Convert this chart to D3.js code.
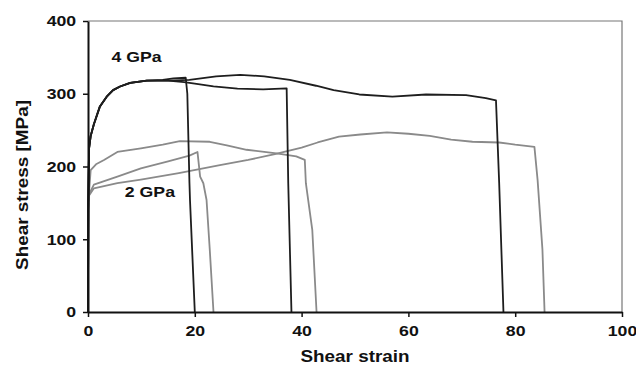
<!DOCTYPE html>
<html>
<head>
<meta charset="utf-8">
<script src="https://cdn.jsdelivr.net/npm/d3@7"></script>
<style>
  body { margin: 0; background: #fff; }
  text { font-family: "Liberation Sans", Arial, sans-serif; font-weight: bold; }
</style>
</head>
<body>
<div id="chart"></div>
<script>
// axis ticks
const xTicks = [0, 20, 40, 60, 80, 100];
const yTicks = [0, 100, 200, 300, 400];

// 4 GPa curves (black)
const strain4a = [0, 0.05, 0.2, 0.5, 1.1, 2.2, 3.5, 4.7, 6, 7.9, 11, 14, 16, 18.3, 18.6, 19.0, 19.1, 20];
const stress4a = [0, 150, 225, 242, 258, 282, 296, 305, 310, 315, 318, 319, 321, 322, 300, 177, 154, 0];
const strain4b = [0, 0.05, 0.2, 0.5, 1.1, 2.2, 3.5, 4.7, 6, 7.9, 11, 15, 18, 20, 23.5, 28, 32.8, 37.2, 37.5, 38.1];
const stress4b = [0, 150, 225, 242, 258, 282, 296, 305, 310, 315, 318, 318, 316, 314, 310, 307, 306, 307.5, 177, 0];
const strain4c = [0, 0.05, 0.2, 0.5, 1.1, 2.2, 3.5, 4.7, 6, 7.9, 11, 15, 19, 24, 28.5, 33, 37.8, 42.7, 46, 50.8, 57, 63.3, 70.8, 74.5, 76.4, 77, 77.8];
const stress4c = [0, 150, 225, 242, 258, 282, 296, 305, 310, 315, 318, 318, 319, 324, 326, 324, 319, 311, 305, 299, 296, 299, 298, 294, 291, 177, 0];

// 2 GPa curves (grey)
const strain2a = [0, 0.05, 0.2, 1.1, 5.5, 9.9, 15, 19, 20.5, 21, 21.6, 22.2, 22.8, 23.5];
const stress2a = [0, 140, 162, 175, 186, 197.5, 207, 215, 220, 186, 177, 154, 86, 0];
const strain2b = [0, 0.05, 0.2, 0.5, 1.5, 3, 5.5, 9.9, 14, 17.2, 22.8, 26, 29.7, 35.3, 39, 40.6, 40.8, 42.0, 42.8];
const stress2b = [0, 150, 165, 195, 203, 209, 220, 225, 230, 235, 234, 229, 223, 218, 214, 209, 177, 113, 0];
const strain2c = [0, 0.05, 0.2, 1.1, 5.5, 9.9, 17, 24.7, 30, 35, 40, 43, 47, 51, 56, 60, 64, 68, 72, 77, 80, 83.6, 84.2, 85.1, 85.5];
const stress2c = [0, 140, 160, 170, 177, 182, 191, 202, 209, 217, 226, 233, 241, 244, 247, 245, 242, 237, 234, 233, 230, 227, 181, 86, 0];

const curves = [
  { x: strain2a, y: stress2a, color: "#8a8a8a" },
  { x: strain2b, y: stress2b, color: "#8a8a8a" },
  { x: strain2c, y: stress2c, color: "#8a8a8a" },
  { x: strain4a, y: stress4a, color: "#1e1e1e" },
  { x: strain4b, y: stress4b, color: "#1e1e1e" },
  { x: strain4c, y: stress4c, color: "#1e1e1e" }
];

const width = 636, height = 366;
const margin = { top: 21, right: 14, bottom: 54, left: 88 };
const stretch = "scale(1.18,1)"; // the original lettering is drawn wide

const svg = d3.select("#chart").append("svg")
  .attr("width", width)
  .attr("height", height);

const x = d3.scaleLinear().domain([0, 100]).range([margin.left, width - margin.right]);
const y = d3.scaleLinear().domain([0, 400]).range([height - margin.bottom, margin.top]);

// frame (top and right, thin grey)
svg.append("path")
  .attr("d", `M${x(0)},${y(400)}H${x(100)}V${y(0)}`)
  .attr("fill", "none")
  .attr("stroke", "#777")
  .attr("stroke-width", 1.2);

// curves
const line = d3.line();
curves.forEach(c => {
  svg.append("path")
    .datum(c.x.map((v, i) => [x(v), y(c.y[i])]))
    .attr("d", line)
    .attr("fill", "none")
    .attr("stroke", c.color)
    .attr("stroke-width", 1.8)
    .attr("stroke-linejoin", "round");
});

// axes
const xAxis = svg.append("g")
  .attr("transform", `translate(0,${y(0)})`)
  .call(d3.axisBottom(x).tickValues(xTicks).tickSize(5).tickSizeOuter(0));
const yAxis = svg.append("g")
  .attr("transform", `translate(${x(0)},0)`)
  .call(d3.axisLeft(y).tickValues(yTicks).tickSize(5).tickSizeOuter(0));

[xAxis, yAxis].forEach(g => {
  g.select(".domain").attr("stroke", "#111").attr("stroke-width", 2);
  g.selectAll(".tick line").attr("stroke", "#111").attr("stroke-width", 1.5);
  g.selectAll(".tick text")
    .attr("fill", "#111")
    .attr("transform", stretch)
    .style("font-size", "15px")
    .style("font-family", "'Liberation Sans', Arial, sans-serif")
    .style("font-weight", "bold");
});
xAxis.selectAll(".tick text").attr("dy", "1.1em");
yAxis.selectAll(".tick text").attr("x", -10);

// axis titles
svg.append("text")
  .attr("transform", `translate(${x(50)},362) ${stretch}`)
  .attr("text-anchor", "middle")
  .attr("fill", "#111")
  .style("font-size", "16px")
  .text("Shear strain");

svg.append("text")
  .attr("transform", `translate(28,185) rotate(-90) ${stretch}`)
  .attr("text-anchor", "middle")
  .attr("fill", "#111")
  .style("font-size", "16px")
  .text("Shear stress [MPa]");

// series labels
svg.append("text")
  .attr("transform", `translate(${x(4.4)},62) ${stretch}`)
  .attr("fill", "#111")
  .style("font-size", "15px")
  .text("4 GPa");

svg.append("text")
  .attr("transform", `translate(${x(6.9)},197) ${stretch}`)
  .attr("fill", "#111")
  .style("font-size", "15px")
  .text("2 GPa");
</script>
</body>
</html>
